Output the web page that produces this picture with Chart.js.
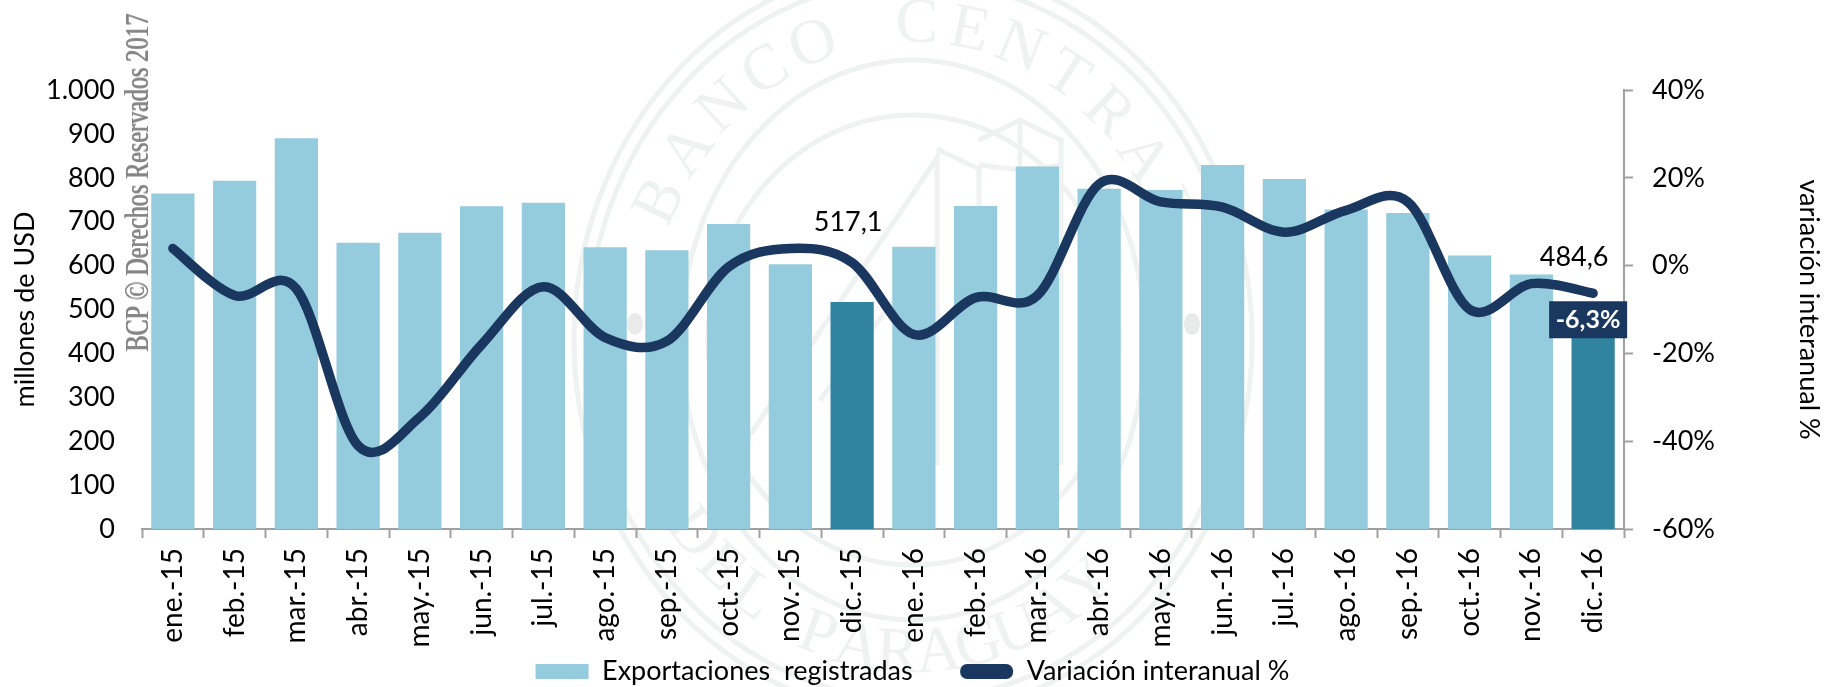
<!DOCTYPE html>
<html>
<head>
<meta charset="utf-8">
<title>Exportaciones registradas</title>
<script src="https://cdn.jsdelivr.net/npm/chart.js@4/dist/chart.umd.min.js"></script>
<style>
  html, body { margin: 0; padding: 0; background: #fff; }
  canvas { display: block; }
</style>
</head>
<body>
<canvas id="grafico" width="1825" height="687"></canvas>
<script>
const meses = [
  'ene.-15', 'feb.-15', 'mar.-15', 'abr.-15', 'may.-15', 'jun.-15',
  'jul.-15', 'ago.-15', 'sep.-15', 'oct.-15', 'nov.-15', 'dic.-15',
  'ene.-16', 'feb.-16', 'mar.-16', 'abr.-16', 'may.-16', 'jun.-16',
  'jul.-16', 'ago.-16', 'sep.-16', 'oct.-16', 'nov.-16', 'dic.-16'
]
const exportaciones = [
  764, 793, 890, 652, 675, 735, 743, 642, 635, 695, 603, 517.1,
  643, 736, 826, 775, 772, 829, 797, 728, 720, 623, 580, 484.6
]
const variacion = [
  3.9, -6.8, -5.3, -41, -34.5, -18, -4.8, -16.4, -17.2, -0.3, 3.9, 0.7,
  -15.7, -7.3, -6.8, 18.6, 14.5, 13.3, 7.6, 12.6, 14.5, -10, -4.1, -6.3
]
const ticksUsd = ['0', '100', '200', '300', '400', '500', '600', '700', '800', '900', '1.000']
const ticksPct = ['-60%', '-40%', '-20%', '0%', '20%', '40%']
const destacados = ['dic.-15', 'dic.-16']

const AZUL = '#1a3760'
const CELESTE = '#94ccde'
const PETROLEO = '#31849f'
const GRIS = '#a0a0a0'
const SELLO = '#eef2f1'
const FUENTE = 'Lato, "Noto Sans", sans-serif'

// sello de fondo del BCP
function textoEnArco(ctx, texto, cx, cy, rx, ry, inicio, paso, abajo) {
  let t = inicio
  for (const letra of texto) {
    const r = t * Math.PI / 180
    const x = cx + rx * Math.sin(r)
    const y = abajo ? cy + ry * Math.cos(r) : cy - ry * Math.cos(r)
    ctx.save()
    ctx.translate(x, y)
    ctx.rotate(abajo ? -r : r)
    ctx.fillText(letra, 0, 0)
    ctx.restore()
    t += paso
  }
}

const fondo = {
  id: 'fondo',
  beforeDraw(chart) {
    const ctx = chart.ctx
    const cx = 913, cy = 340
    ctx.save()
    ctx.fillStyle = '#fff'
    ctx.fillRect(0, 0, chart.width, chart.height)
    ctx.strokeStyle = SELLO
    ctx.fillStyle = SELLO
    ctx.lineWidth = 5
    for (const [rx, ry] of [[339, 375], [326, 360], [232, 280], [205, 225]]) {
      ctx.beginPath()
      ctx.ellipse(cx, cy, rx, ry, 0, 0, Math.PI * 2)
      ctx.stroke()
    }
    ctx.font = '64px "Liberation Serif", serif'
    ctx.textAlign = 'center'
    ctx.textBaseline = 'middle'
    textoEnArco(ctx, 'BANCO CENTRAL', cx, cy, 280, 315, -64, 10.8, false)
    textoEnArco(ctx, 'DEL', cx, cy, 280, 315, -52, 8.4, true)
    textoEnArco(ctx, 'PARAGUAY', cx, cy, 280, 315, -20, 8.4, true)
    ctx.fillStyle = '#e9ebea'
    for (const x of [635, 1192]) {
      ctx.beginPath()
      ctx.ellipse(x, 324, 8, 11, 0, 0, Math.PI * 2)
      ctx.fill()
    }
    const trazos = [
      [[748, 438], [937, 158], [937, 465]],
      [[937, 149], [979, 169], [979, 465]],
      [[979, 140], [1020, 120], [1061, 140], [1061, 465]],
      [[1020, 120], [1020, 170]],
      [[979, 165], [1020, 170], [1061, 165]],
      [[820, 400], [905, 285], [905, 465]]
    ]
    for (const trazo of trazos) {
      ctx.beginPath()
      trazo.forEach(([x, y], i) => i ? ctx.lineTo(x, y) : ctx.moveTo(x, y))
      ctx.stroke()
    }
    ctx.restore()
  }
}

// suavizado uniforme, como la linea suavizada de la planilla original
const suavizado = {
  id: 'suavizado',
  beforeDatasetDraw(chart, args) {
    const meta = chart.getDatasetMeta(args.index)
    if (meta.type !== 'line') return
    meta.dataset.updateControlPoints(chart.chartArea)
    const pts = meta.data
    pts.forEach((p, i) => {
      const prev = pts[i - 1] || p
      const next = pts[i + 1] || p
      const dx = (next.x - prev.x) / 6
      const dy = (next.y - prev.y) / 6
      p.cp1x = p.x - dx
      p.cp1y = p.y - dy
      p.cp2x = p.x + dx
      p.cp2y = p.y + dy
    })
  }
}

// rotulos sueltos sobre las series
const rotulos = {
  id: 'rotulos',
  afterDatasetsDraw(chart) {
    const ctx = chart.ctx
    const barras = chart.getDatasetMeta(0).data
    const yPct = chart.scales.yPct
    ctx.save()
    ctx.font = '27px ' + FUENTE
    ctx.fillStyle = '#000'
    ctx.textAlign = 'center'
    ctx.textBaseline = 'middle'
    ctx.fillText('517,1', barras[11].x - 4, 222)
    ctx.fillText('484,6', barras[23].x - 19, 257)

    const xCaja = barras[23].x
    const yCaja = yPct.getPixelForValue(variacion[23])
    ctx.fillStyle = AZUL
    ctx.fillRect(xCaja - 44, yCaja + 8, 78, 37)
    ctx.fillStyle = '#fff'
    ctx.font = 'bold 25px ' + FUENTE
    ctx.fillText('-6,3%', xCaja - 5, yCaja + 27)
    ctx.restore()
  },
  afterDraw(chart) {
    const ctx = chart.ctx
    ctx.save()
    ctx.translate(148, 352)
    ctx.rotate(-Math.PI / 2)
    ctx.font = '33px "Liberation Serif", serif'
    ctx.fillStyle = 'rgba(130,130,130,0.9)'
    ctx.textAlign = 'left'
    ctx.textBaseline = 'alphabetic'
    // la marca de agua aparece doble en el original
    ctx.fillText('BCP © Derechos Reservados 2017', 0, 0, 338)
    ctx.fillText('BCP © Derechos Reservados 2017', 1, 0, 338)
    ctx.restore()
  }
}

new Chart(document.getElementById('grafico'), {
  data: {
    labels: meses,
    datasets: [
      {
        type: 'bar',
        label: 'Exportaciones  registradas',
        data: exportaciones,
        yAxisID: 'yUsd',
        order: 2,
        backgroundColor: meses.map(m => destacados.includes(m) ? PETROLEO : CELESTE),
        categoryPercentage: 1,
        barPercentage: 0.7
      },
      {
        type: 'line',
        label: 'Variación interanual %',
        data: variacion,
        yAxisID: 'yPct',
        order: 1,
        borderColor: AZUL,
        backgroundColor: AZUL,
        borderWidth: 9.5,
        borderCapStyle: 'round',
        borderJoinStyle: 'round',
        pointRadius: 0,
        tension: 0.4
      }
    ]
  },
  options: {
    responsive: false,
    animation: false,
    layout: { padding: { top: 90, bottom: -8 } },
    plugins: {
      tooltip: { enabled: false },
      legend: {
        position: 'bottom',
        labels: {
          color: '#000',
          font: { family: FUENTE, size: 27 },
          boxWidth: 53,
          boxHeight: 15,
          padding: 6,
          useBorderRadius: true,
          generateLabels(chart) {
            return chart.data.datasets.map((d, i) => ({
              // espacios al final: separacion entre las dos entradas
              text: i === 0 ? d.label + '      ' : d.label,
              datasetIndex: i,
              fillStyle: i === 0 ? CELESTE : AZUL,
              strokeStyle: 'transparent',
              lineWidth: 0,
              borderRadius: i === 0 ? 0 : 7,
              fontColor: '#000'
            }))
          }
        }
      }
    },
    scales: {
      x: {
        offset: true,
        afterFit(s) { s.height = 123 },
        border: { color: GRIS, width: 2 },
        grid: { display: true, drawOnChartArea: false, drawTicks: true, tickLength: 9, tickColor: GRIS, tickWidth: 2 },
        ticks: {
          color: '#000',
          font: { family: FUENTE, size: 28 },
          maxRotation: 90,
          minRotation: 90,
          autoSkip: false,
          padding: 10
        }
      },
      yUsd: {
        position: 'left',
        min: 0,
        max: 1000,
        afterFit(s) { s.width = 142 },
        border: { display: false },
        grid: { display: false, drawTicks: false },
        ticks: {
          stepSize: 100,
          color: '#000',
          font: { family: FUENTE, size: 27 },
          padding: 27,
          callback: (v, i) => ticksUsd[i]
        },
        title: {
          display: true,
          text: 'millones de USD',
          color: '#000',
          font: { family: FUENTE, size: 27 },
          padding: { top: 9, bottom: 0 }
        }
      },
      yPct: {
        position: 'right',
        min: -60,
        max: 40,
        afterFit(s) { s.width = 201 },
        border: { color: GRIS, width: 2 },
        grid: { drawOnChartArea: false, drawTicks: true, tickLength: 9, tickColor: GRIS, tickWidth: 2 },
        ticks: {
          stepSize: 20,
          color: '#000',
          font: { family: FUENTE, size: 27 },
          padding: 19,
          callback: (v, i) => ticksPct[i]
        },
        title: {
          display: true,
          text: 'variación interanual %',
          color: '#000',
          font: { family: FUENTE, size: 27 },
          padding: { top: 0, bottom: 0 }
        }
      }
    }
  },
  plugins: [fondo, suavizado, rotulos]
})
</script>
</body>
</html>
